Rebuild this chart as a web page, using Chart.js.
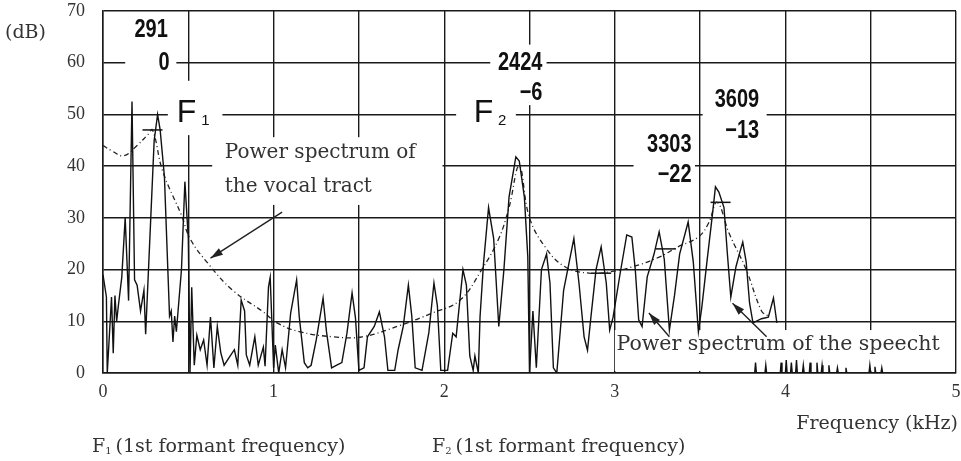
<!DOCTYPE html>
<html>
<head>
<meta charset="utf-8">
<script src="https://cdn.jsdelivr.net/npm/chart.js@4"></script>
<style>
  body { margin: 0; background: #fff; }
</style>
</head>
<body>
<canvas id="myChart" width="961" height="461"></canvas>
<script>
// speech spectrum (kHz, dB), read peak by peak off the plot; null = break in the trace
var speechFreq = [0, 0.02, 0.025, 0.05, 0.06, 0.07, 0.08, 0.09, 0.11, 0.13, 0.15, 0.17, 0.185, 0.2, 0.22, 0.24, 0.25, 0.28, 0.3, 0.32, 0.335, 0.36, 0.38, 0.39, 0.4, 0.41, 0.42, 0.43, 0.46, 0.48, 0.5, 0.51,
    0.52, 0.535, 0.55, 0.57, 0.59, 0.61, 0.63, 0.65, 0.67, 0.69, 0.71, 0.74, 0.77, 0.79, 0.81, 0.83, 0.84, 0.86, 0.89, 0.91, 0.94, 0.95, 0.97, 0.98, 1.0,
    1.01, 1.03, 1.05, 1.07, 1.1, 1.135, 1.15, 1.18, 1.2, 1.22, 1.25, 1.29, 1.31, 1.34, 1.37, 1.4, 1.43, 1.46, 1.48, 1.5, 1.53, 1.55, 1.59, 1.62, 1.65, 1.67, 1.71, 1.73, 1.76, 1.79, 1.81, 1.83, 1.87, 1.91, 1.94, 1.96, 1.98, 2.02, 2.05,
    2.07, 2.09, 2.11, 2.13, 2.15, 2.17, 2.18, 2.2, 2.21, 2.23, 2.26, 2.29, 2.32, 2.35, 2.38, 2.42, 2.44, 2.47, 2.49, 2.5, 2.52, 2.54, 2.57, 2.6, 2.62, 2.64, 2.66, 2.7, 2.73, 2.76, 2.79, 2.82, 2.84, 2.86, 2.89, 2.92, 2.95, 2.97, 2.99, 3.03, 3.07,
    3.1, 3.12, 3.14, 3.16, 3.19, 3.23, 3.26, 3.29, 3.32, 3.35, 3.38, 3.43, 3.46, 3.49, 3.51, 3.54, 3.57, 3.59, 3.61, 3.64, 3.66, 3.68, 3.71, 3.73, 3.75, 3.77, 3.79, 3.81, 3.86, 3.9, 3.93, 3.95,
    3.96,
    3.82, 3.825, 3.83, 3.88, 3.885, 3.89, 3.97, 3.975, 3.98, 4.0, 4.005, 4.01, 4.03, 4.035, 4.04, 4.06, 4.065, 4.07, 4.1, 4.105, 4.11, 4.14, 4.145, 4.15, 4.18, 4.185, 4.19, 4.21, 4.215, 4.22, 4.25, 4.255, 4.26, 4.3, 4.305, 4.31, 4.35, 4.355, 4.36,
    4.4,
    4.49, 4.495, 4.5, 4.52, 4.525, 4.53, 4.56, 4.565, 4.57];
var speechDb = [19, 14.7, 0, 14.7, 3.8, 15, 10, 13, 18.5, 30, 14, 52.5, 18, 17, 12, 16, 7.5, 30, 45, 50, 47, 38, 20, 11, 12, 6, 11, 8, 20, 37, 26, 0,
    16.6, 1.5, 7.3, 4.5, 6.4, 1.5, 10.8, 1, 9, 4, 1.5, 3, 4.5, 1.5, 14.1, 12, 3.5, 1.5, 7, 1.5, 5, 1.3, 16.6, 18.5, 1,
    5.4, 0, 4.5, 1, 11.6, 18, 11, 2, 1, 1.5, 6.4, 14.5, 8, 1, 1.5, 2, 7.7, 15.5, 10.6, 0.5, 1, 7, 9, 11.8, 7, 0.5, 0.5, 4.5, 9, 17, 11, 1, 0.5, 7.8, 17.4, 13, 0.5, 0.5, 7.7,
    7, 13.5, 20, 17, 3.3, 0.5, 3.3, 0, 10.8, 21, 32, 26, 9, 20, 34, 41.8, 41, 34, 22.5, 0, 12, 1, 20, 23, 17.4, 1, 0, 16, 21, 26, 17.4, 7, 4.4, 10.8, 20, 24.4, 17.4, 8.3, 10.8, 19, 26.7,
    26.3, 20, 10.3, 9, 18.6, 23, 27.3, 22, 8.3, 15, 23, 29.2, 21.5, 8, 12.7, 21.5, 30, 36, 35, 32, 23, 14.7, 20.5, 23, 25.3, 21.5, 13.5, 9.7, 10.5, 10.8, 14.5, 9.7,
    null,
    0, 2, 0, 0, 1.5, 0, 0, 2, 0, 0, 2.5, 0, 0, 2, 0, 0, 2.5, 0, 0, 1.5, 0, 0, 2, 0, 0, 2, 0, 0, 1.5, 0, 0, 1.5, 0, 0, 1, 0, 0, 1, 0,
    null,
    0, 1.5, 0, 0, 1.2, 0, 0, 1, 0];

// vocal tract envelope (dash-dot curve)
var envFreq = [0, 0.05, 0.12, 0.2, 0.26, 0.29, 0.35, 0.46, 0.51, 0.62, 0.76, 0.94, 1.02, 1.15, 1.35, 1.52, 1.75, 1.93, 2.09, 2.22, 2.32, 2.38, 2.44, 2.5, 2.6, 2.71, 2.85, 2.98, 3.1, 3.26, 3.37, 3.49, 3.55, 3.6, 3.67, 3.77, 3.86, 3.9];
var envDb = [44, 43, 42, 44, 46, 47, 39, 30.5, 26, 21, 16, 11.8, 9.7, 8, 7, 7, 9.3, 11.6, 14, 20, 26, 32, 40, 30, 24, 20.5, 19.3, 19.6, 20.5, 22.4, 24.4, 26.3, 29, 33, 27, 20, 12, 11];

// formant markers and their readings
var markFreq = [0.29, 2.92, 3.3, 3.62];
var markDb = [47, 19.3, 24, 33];
var formantText = [['291', '0'], ['2424', '\u22126'], ['3303', '\u221222'], ['3609', '\u221213']];

var serif = "'DejaVu Serif', serif";
var sans = "'Liberation Sans', sans-serif";

function pts(xs, ys) {
    return xs.map(function (x, i) { return { x: x, y: ys[i] }; });
}

// white patches where the labels sit on the grid: [x1, x2, y1, y2] in kHz / dB
var patches = [
    [0.13, 0.43, 57.5, 68.5], [0.38, 0.70, 46, 56.5], [0.64, 1.99, 32.5, 45.6],
    [2.27, 2.6, 51.8, 63.5], [2.07, 2.42, 47, 53.5], [3.515, 3.89, 45, 55.7],
    [3.11, 3.47, 36.5, 47], [3.0, 4.93, 0.4, 8.3]
];
// right edge / centre line of each formant reading: [x, y top line, x, y bottom line]
var numberPos = [
    [0.38, 66.3, 0.39, 60], [2.576, 60, 2.576, 54.2], [3.45, 44.1, 3.45, 38.3], [3.846, 52.8, 3.846, 46.8]
];

function narrowText(c, txt, x, y) {
    // condensed look: squeeze a regular sans face horizontally
    c.save();
    c.translate(x, y);
    c.scale(0.8, 1);
    c.fillText(txt, 0, 0);
    c.restore();
}

var labels = {
    id: 'labels',
    beforeDatasetsDraw: function (chart) {
        var c = chart.ctx, xs = chart.scales.x, ys = chart.scales.y;
        var X = function (v) { return xs.getPixelForValue(v); };
        var Y = function (v) { return ys.getPixelForValue(v); };
        c.save();
        c.fillStyle = '#fff';
        patches.forEach(function (p) {
            c.fillRect(X(p[0]), Y(p[3]), X(p[1]) - X(p[0]), Y(p[2]) - Y(p[3]));
        });
        c.fillStyle = '#111';
        c.textBaseline = 'middle';

        c.font = 'bold 25px ' + sans;
        c.textAlign = 'right';
        formantText.forEach(function (t, i) {
            var p = numberPos[i];
            narrowText(c, t[0], X(p[0]), Y(p[1]));
            narrowText(c, t[1], X(p[2]), Y(p[3]));
        });

        c.textAlign = 'center';
        c.font = '32px ' + sans;
        c.fillText('F', X(0.49), Y(50.3));
        c.fillText('F', X(2.23), Y(50.3));
        c.font = '15px ' + sans;
        c.fillText('1', X(0.6), Y(48.8));
        c.fillText('2', X(2.34), Y(48.8));

        c.textAlign = 'left';
        c.font = '20px ' + serif;
        c.fillStyle = '#333';
        c.fillText('Power spectrum of', X(0.714), Y(42.5));
        c.fillText('the vocal tract', X(0.714), Y(36));
        c.font = '20.5px ' + serif;
        c.fillText('Power spectrum of the speecht', X(3.01), Y(5.4));
        c.restore();
    },
    afterDatasetsDraw: function (chart) {
        var c = chart.ctx, xs = chart.scales.x, ys = chart.scales.y;
        var arrows = [[1.05, 31.1, 0.63, 22.2], [3.32, 7, 3.2, 11.6], [3.89, 7, 3.69, 13.5]];
        c.save();
        c.strokeStyle = '#222';
        c.fillStyle = '#222';
        c.lineWidth = 1.4;
        arrows.forEach(function (a) {
            var x1 = xs.getPixelForValue(a[0]), y1 = ys.getPixelForValue(a[1]);
            var x2 = xs.getPixelForValue(a[2]), y2 = ys.getPixelForValue(a[3]);
            var ang = Math.atan2(y2 - y1, x2 - x1);
            c.beginPath();
            c.moveTo(x1, y1);
            c.lineTo(x2, y2);
            c.stroke();
            c.beginPath();
            c.moveTo(x2, y2);
            c.lineTo(x2 - 13 * Math.cos(ang - 0.3), y2 - 13 * Math.sin(ang - 0.3));
            c.lineTo(x2 - 13 * Math.cos(ang + 0.3), y2 - 13 * Math.sin(ang + 0.3));
            c.closePath();
            c.fill();
        });
        c.restore();
    },
    afterDraw: function (chart) {
        var c = chart.ctx, a = chart.chartArea;
        c.save();
        c.fillStyle = '#333';
        c.textBaseline = 'middle';
        c.font = '19px ' + serif;
        c.fillText('(dB)', 5, 33);
        c.textAlign = 'right';
        c.fillText('Frequency (kHz)', a.right + 2, a.bottom + 51);
        c.textAlign = 'left';
        // captions under the axis
        var caps = [['1', a.left - 11], ['2', a.left + 329]];
        caps.forEach(function (cp) {
            var x = cp[1], y = 447;
            c.font = '19px ' + serif;
            c.fillText('F', x, y);
            x += c.measureText('F').width;
            c.font = '10px ' + serif;
            c.fillText(cp[0], x, y + 4);
            x += c.measureText(cp[0]).width + 4;
            c.font = '19px ' + serif;
            c.fillText('(1st formant frequency)', x, y);
        });
        c.restore();
    }
};

var ctx = document.getElementById('myChart').getContext('2d');

var myChart = new Chart(ctx, {
    type: 'line',
    data: {
        datasets: [{
            label: 'Power spectrum of the speech',
            data: pts(speechFreq, speechDb),
            borderColor: '#111',
            borderWidth: 1.4,
            pointRadius: 0,
            tension: 0,
            spanGaps: false
        }, {
            label: 'Power spectrum of the vocal tract',
            data: pts(envFreq, envDb),
            borderColor: '#222',
            borderWidth: 1.3,
            borderDash: [5, 3, 1, 3],
            pointRadius: 0,
            tension: 0.4
        }, {
            label: 'Formants',
            data: pts(markFreq, markDb),
            showLine: false,
            pointStyle: 'line',
            pointRadius: 10,
            borderColor: '#111',
            borderWidth: 1.5
        }]
    },
    options: {
        responsive: false,
        animation: false,
        layout: { autoPadding: false, padding: { top: 11, right: 5, left: 0, bottom: 0 } },
        plugins: {
            legend: { display: false },
            tooltip: { enabled: false }
        },
        scales: {
            x: {
                type: 'linear',
                min: 0,
                max: 5,
                ticks: {
                    stepSize: 0.5,
                    padding: 8,
                    color: '#333',
                    font: { family: "'Liberation Serif', serif", size: 18 },
                    callback: function (v) { return Number.isInteger(v) ? v : ''; }
                },
                grid: { color: '#1a1a1a', lineWidth: 1.4, drawTicks: false },
                border: { color: '#1a1a1a', width: 1.5 },
                afterFit: function (s) {
                    s.height = 88;
                    s.paddingLeft = 0;
                    s.paddingRight = 0;
                }
            },
            y: {
                min: 0,
                max: 70,
                ticks: {
                    stepSize: 10,
                    padding: 18,
                    color: '#333',
                    font: { family: "'Liberation Serif', serif", size: 18 }
                },
                grid: { color: '#1a1a1a', lineWidth: 1.4, drawTicks: false },
                border: { color: '#1a1a1a', width: 1.5 },
                afterFit: function (s) {
                    s.width = 103;
                    s.paddingTop = 0;
                    s.paddingBottom = 0;
                }
            }
        }
    },
    plugins: [labels]
});
</script>
</body>
</html>
